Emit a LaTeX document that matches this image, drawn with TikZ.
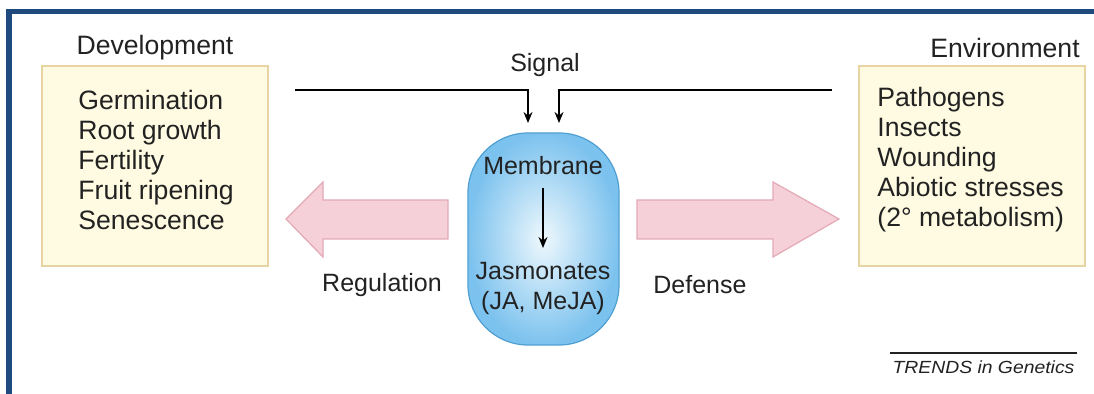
\documentclass[tikz,border=0pt]{standalone}
\usepackage{fontspec}
\setmainfont{Liberation Sans}
\usetikzlibrary{arrows.meta}
\definecolor{frameblue}{HTML}{1F4A7E}
\definecolor{boxfill}{HTML}{FFFBE2}
\definecolor{boxline}{HTML}{E6D4A2}
\definecolor{pinkfill}{HTML}{F6D0D8}
\definecolor{pinkline}{HTML}{E3A9B6}
\definecolor{cellout}{HTML}{7CC2EE}
\definecolor{cellin}{HTML}{EEF8FD}
\definecolor{cellline}{HTML}{4F9FD3}
\definecolor{txt}{HTML}{222222}
\tikzset{
  envbox/.style={draw=boxline, fill=boxfill, line width=0.6pt, minimum width=113pt, minimum height=100pt, inner sep=0pt},
  listtext/.style={align=left, anchor=west, inner sep=0pt, text=txt},
  lbl/.style={inner sep=0pt, text=txt},
  midlbl/.style={inner sep=0pt, text=txt, font=\fontsize{12.5}{15}\selectfont},
  cellbox/.style={draw=cellline, line width=0.6pt, inner color=cellin, outer color=cellout, rounded corners=30pt, minimum width=75.5pt, minimum height=106pt, inner sep=0pt},
  sig/.style={line width=0.75pt, -{Stealth[length=5.5pt,width=4.5pt]}},
  fatarrow/.style={fill=pinkfill, draw=pinkline, line width=0.6pt, line join=miter}
}
\begin{document}
\begin{tikzpicture}[x=0.5pt,y=-0.5pt, font=\fontsize{13.3}{15}\selectfont]
\useasboundingbox (0,0) rectangle (1094,394);
\fill[white] (0,0) rectangle (1094,394);
% frame
\fill[frameblue] (6,9) rectangle (1094,14);
\fill[frameblue] (6,9) rectangle (12,394);

% side boxes
\node[envbox] (dev) at (155,166) {};
\node[lbl] (devlbl) at (155,48) {Development};
\node[listtext] (devlist) at (78,160) {Germination\\Root growth\\Fertility\\Fruit ripening\\Senescence};

\node[envbox] (env) at (972,166) {};
\node[lbl] (envlbl) at (1005,48) {Environment};
\node[listtext] (envlist) at (877,160) {Pathogens\\Insects\\Wounding\\Abiotic stresses\\(2\textdegree\ metabolism)};

% central cell
\node[cellbox] (cell) at (543.5,239) {};
\node[midlbl] (mem) at (543,166) {Membrane};
\node[midlbl, align=center] (jas) at (543,288) {Jasmonates\\(JA, MeJA)};
\coordinate (mbot) at (543,188);
\coordinate (jtop) at (543,248);
\draw[sig] (mbot) -- (jtop);

% signal
\node[midlbl] (signal) at (545,65) {Signal};
\coordinate (sl) at (295,90);
\coordinate (sr) at (832,90);
\coordinate (al) at (528,123);
\coordinate (ar) at (559,123);
\draw[sig] (sl) -- (528,90) -- (al);
\draw[sig] (sr) -- (559,90) -- (ar);

% fat arrows
\draw[fatarrow] (448,200) -- (323,200) -- (323,182) -- (286,219) -- (323,257) -- (323,239) -- (448,239) -- cycle;
\draw[fatarrow] (637,200) -- (773,200) -- (773,182) -- (839,219) -- (773,257) -- (773,239) -- (637,239) -- cycle;
\node[midlbl] (reg) at (382,285) {Regulation};
\node[midlbl] (def) at (700,285) {Defense};

% credit
\draw[line width=0.6pt, txt] (890,353) -- (1077,353);
\node[lbl, font=\fontsize{8.8}{10}\itshape] (trends) at (983.5,367) {\scalebox{1.1}[1]{TRENDS in Genetics}};
\end{tikzpicture}
\end{document}
